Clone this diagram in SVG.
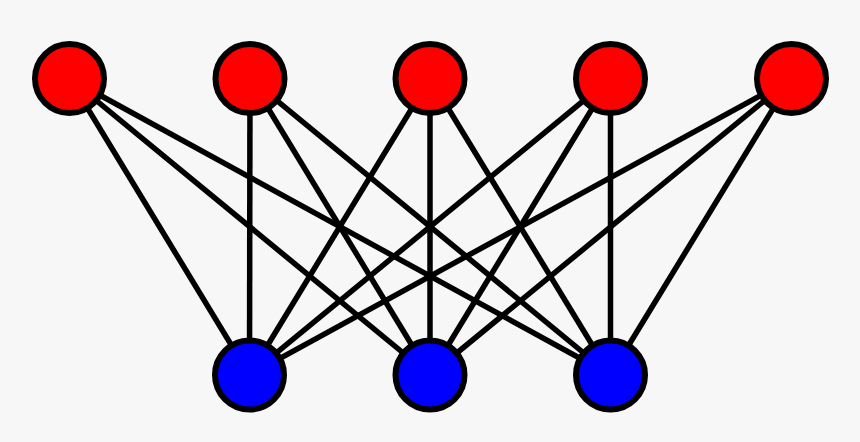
<svg xmlns="http://www.w3.org/2000/svg" width="860" height="442" viewBox="0 0 860 442">
<style>
.e{stroke:#000;stroke-width:5.5;fill:none}
.n{stroke:#000;stroke-width:6}
.t{fill:#ff0000}
.b{fill:#0000ff}
</style>
<rect width="860" height="442" fill="#f7f7f7"/>
<g id="edges">
<line class="e" x1="69.5" y1="78.5" x2="249.5" y2="375"/>
<line class="e" x1="69.5" y1="78.5" x2="430" y2="375"/>
<line class="e" x1="69.5" y1="78.5" x2="610.5" y2="375"/>
<line class="e" x1="250" y1="78.5" x2="249.5" y2="375"/>
<line class="e" x1="250" y1="78.5" x2="430" y2="375"/>
<line class="e" x1="250" y1="78.5" x2="610.5" y2="375"/>
<line class="e" x1="430" y1="78.5" x2="249.5" y2="375"/>
<line class="e" x1="430" y1="78.5" x2="430" y2="375"/>
<line class="e" x1="430" y1="78.5" x2="610.5" y2="375"/>
<line class="e" x1="610.5" y1="78.5" x2="249.5" y2="375"/>
<line class="e" x1="610.5" y1="78.5" x2="430" y2="375"/>
<line class="e" x1="610.5" y1="78.5" x2="610.5" y2="375"/>
<line class="e" x1="791.5" y1="78.5" x2="249.5" y2="375"/>
<line class="e" x1="791.5" y1="78.5" x2="430" y2="375"/>
<line class="e" x1="791.5" y1="78.5" x2="610.5" y2="375"/>
</g>
<g id="t1"><circle class="n t" cx="69.5" cy="78.5" r="34.5"/></g>
<g id="t2"><circle class="n t" cx="250" cy="78.5" r="34.5"/></g>
<g id="t3"><circle class="n t" cx="430" cy="78.5" r="34.5"/></g>
<g id="t4"><circle class="n t" cx="610.5" cy="78.5" r="34.5"/></g>
<g id="t5"><circle class="n t" cx="791.5" cy="78.5" r="34.5"/></g>
<g id="b1"><circle class="n b" cx="249.5" cy="375" r="34.5"/></g>
<g id="b2"><circle class="n b" cx="430" cy="375" r="34.5"/></g>
<g id="b3"><circle class="n b" cx="610.5" cy="375" r="34.5"/></g>
</svg>
